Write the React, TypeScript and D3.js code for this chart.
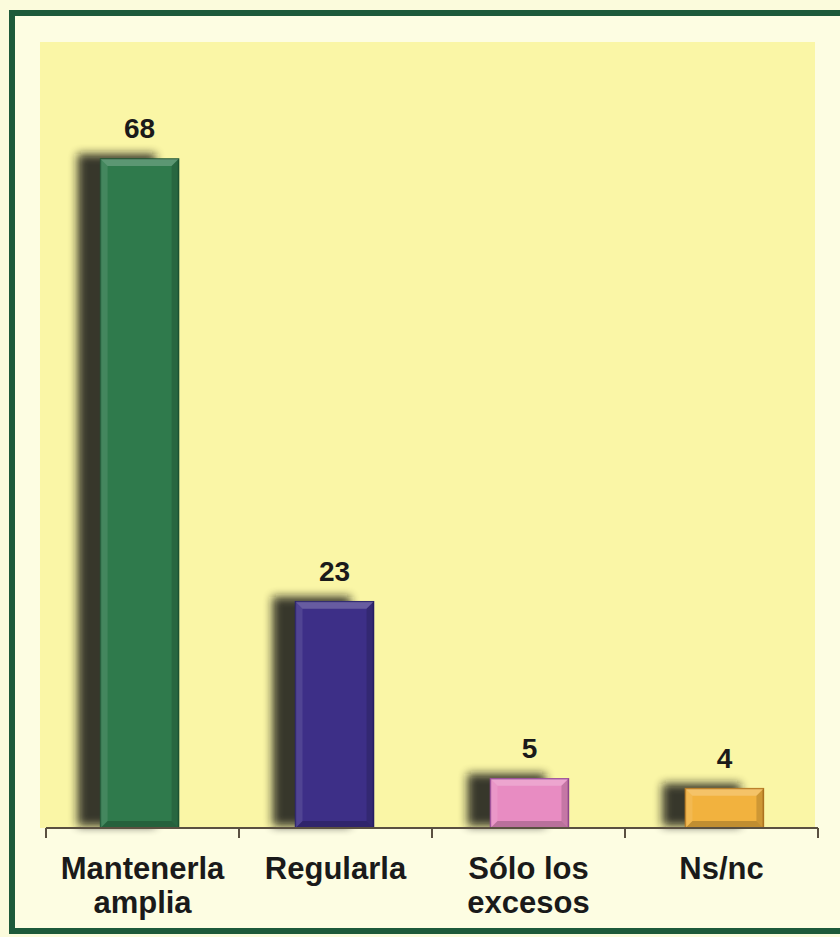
import React from "react";
import * as d3 from "d3";

const categories: string[][] = [
  ["Mantenerla", "amplia"],
  ["Regularla"],
  ["Sólo los", "excesos"],
  ["Ns/nc"],
];
const values: number[] = [68, 23, 5, 4];
const barColors: string[] = ["#2f7a4c", "#3d2f87", "#e88cc2", "#f2b23e"];
const edgeColors: string[] = ["#1f5a36", "#28206a", "#9a4a96", "#b87a20"];

const W = 840;
const H = 937;
const FONT = "Arial, 'Liberation Sans', Helvetica, sans-serif";

export default function App() {
  const axisY = 828;
  const x = d3
    .scaleBand<number>()
    .domain(values.map((_, i) => i))
    .range([46, 818])
    .paddingInner(0.6)
    .paddingOuter(0.28);
  const y = d3.scaleLinear().domain([0, 68]).range([axisY, 159]);
  const ticks = d3.range(values.length + 1).map((i) => 46 + (i * (818 - 46)) / values.length);
  const bw = x.bandwidth();
  const bev = 7;

  return (
    <svg
      width={W}
      height={H}
      style={{ position: "absolute", left: 0, top: 0, display: "block" }}
    >
      <defs>
        <filter id="blur" x="-50%" y="-50%" width="200%" height="200%">
          <feGaussianBlur stdDeviation="5" />
        </filter>
      </defs>
      <rect x={0} y={0} width={W} height={H} fill="#fbfbdc" />
      <rect x={12} y={13} width={W + 20} height={918} fill="#fdfde2" stroke="#1d5a3a" strokeWidth={6} />
      <rect x={40} y={42} width={775} height={axisY - 42} fill="#faf6a6" />

      {values.map((v, i) => {
        const bx = x(i)!;
        const top = y(v);
        const h = axisY - top;
        return (
          <g key={i}>
            <rect
              x={bx - 23}
              y={top - 5}
              width={bw}
              height={h + 3}
              fill="#151515"
              opacity={0.85}
              filter="url(#blur)"
            />
            <rect x={bx} y={top} width={bw} height={h} fill={barColors[i]} stroke={edgeColors[i]} strokeWidth={1.5} />
            <polygon
              points={`${bx},${top} ${bx + bw},${top} ${bx + bw - bev},${top + bev} ${bx + bev},${top + bev}`}
              fill="#ffffff"
              opacity={0.22}
            />
            <polygon
              points={`${bx},${top} ${bx + bev},${top + bev} ${bx + bev},${axisY - bev} ${bx},${axisY}`}
              fill="#ffffff"
              opacity={0.1}
            />
            <polygon
              points={`${bx + bw},${top} ${bx + bw - bev},${top + bev} ${bx + bw - bev},${axisY - bev} ${bx + bw},${axisY}`}
              fill="#000000"
              opacity={0.15}
            />
            <polygon
              points={`${bx},${axisY} ${bx + bev},${axisY - bev} ${bx + bw - bev},${axisY - bev} ${bx + bw},${axisY}`}
              fill="#000000"
              opacity={0.2}
            />
            <text
              x={bx + bw / 2}
              y={top - 21}
              textAnchor="middle"
              fontFamily={FONT}
              fontWeight="bold"
              fontSize={28}
              fill="#1a1a1a"
            >
              {v}
            </text>
          </g>
        );
      })}

      <line x1={46} x2={818} y1={axisY} y2={axisY} stroke="#5a5040" strokeWidth={2} />
      {ticks.map((t, i) => (
        <line key={i} x1={t} x2={t} y1={axisY} y2={axisY + 10} stroke="#5a5040" strokeWidth={2} />
      ))}

      {categories.map((lines, i) => (
        <text
          key={i}
          x={(ticks[i] + ticks[i + 1]) / 2}
          y={879}
          textAnchor="middle"
          fontFamily={FONT}
          fontWeight="bold"
          fontSize={31}
          fill="#1a1a1a"
        >
          {lines.map((l, j) => (
            <tspan key={j} x={(ticks[i] + ticks[i + 1]) / 2} dy={j === 0 ? 0 : 34}>
              {l}
            </tspan>
          ))}
        </text>
      ))}
    </svg>
  );
}
